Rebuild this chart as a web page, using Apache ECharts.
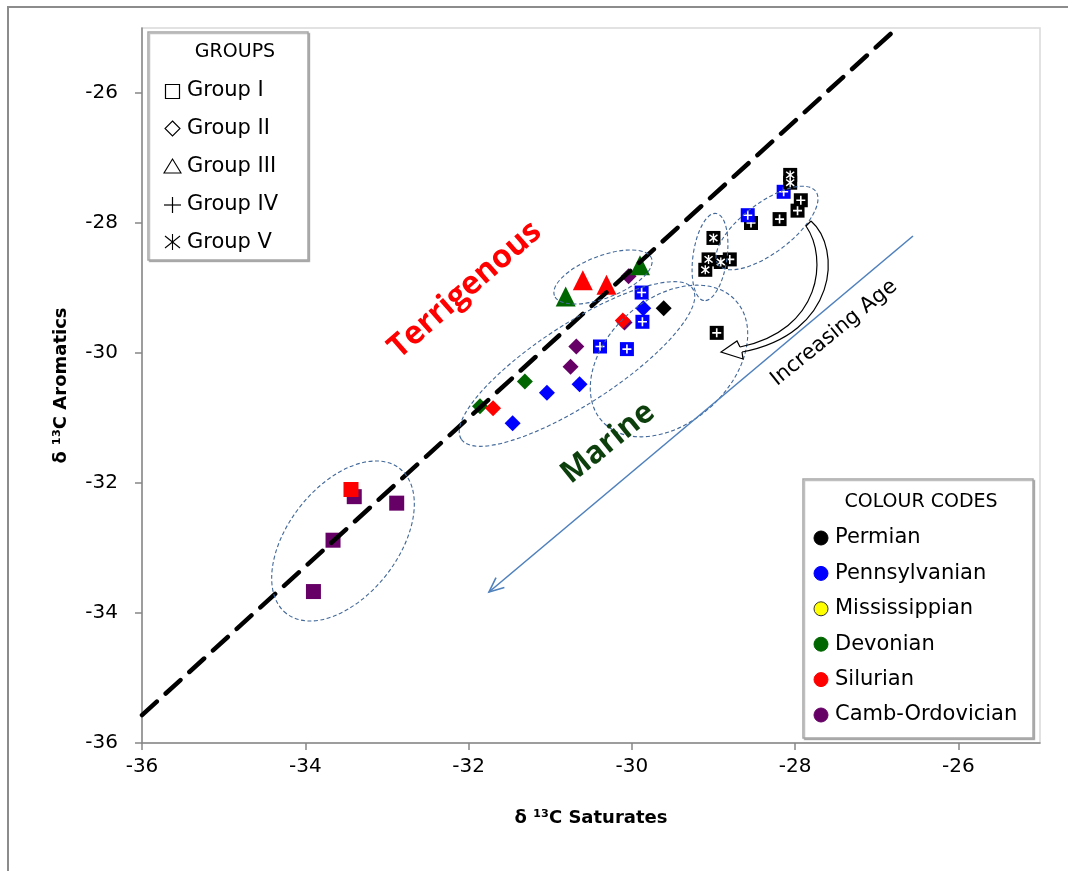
<!DOCTYPE html>
<html><head><meta charset="utf-8">
<script src="https://cdn.jsdelivr.net/npm/echarts@6/dist/echarts.min.js"></script>
<style>html,body{margin:0;padding:0;background:#fff}#c{width:1068px;height:871px}</style>
</head><body><div id="c"></div>
<script>
// ---- Data (δ13C Saturates, δ13C Aromatics) ----
const xTicks = [-36, -34, -32, -30, -28, -26];
const yTicks = [-36, -34, -32, -30, -28, -26];
const g1Silurian = [[-33.44, -32.10]];
const g1CambOrd = [[-33.40, -32.21], [-32.88, -32.31], [-33.66, -32.88], [-33.90, -33.67]];
const g2Devonian = [[-31.86, -30.82], [-31.31, -30.44]];
const g2CambOrd = [[-30.68, -29.90], [-30.75, -30.21], [-30.09, -29.53], [-30.04, -28.82]];
const g2Silurian = [[-31.70, -30.85], [-30.11, -29.50]];
const g2Pennsylvanian = [[-31.46, -31.08], [-31.04, -30.61], [-30.64, -30.48], [-29.86, -29.31]];
const g2Permian = [[-29.61, -29.31]];
const g3Devonian = [[-30.81, -29.13], [-29.90, -28.65]];
const g3Silurian = [[-30.60, -28.88], [-30.31, -28.95]];
const g4Permian = [[-28.54, -28.00], [-28.19, -27.94], [-27.97, -27.81], [-27.93, -27.65], [-28.80, -28.56], [-28.96, -29.69]];
const g4Pennsylvanian = [[-30.39, -29.90], [-30.06, -29.94], [-29.87, -29.52], [-29.88, -29.07], [-28.58, -27.88], [-28.14, -27.52]];
const g5Permian = [[-28.06, -27.26], [-28.06, -27.38], [-29.00, -28.23], [-29.06, -28.56], [-29.10, -28.72], [-28.91, -28.60]];
const oneToOneLine = [[-36, -35.57], [-26.75, -25.0]];
const groupLabels = ['Group I', 'Group II', 'Group III', 'Group IV', 'Group V'];
const periodLabels = ['Permian', 'Pennsylvanian', 'Mississippian', 'Devonian', 'Silurian', 'Camb-Ordovician'];

// ---- Styles ----
const C = { Permian: '#000000', Pennsylvanian: '#0000ff', Mississippian: '#ffff00', Devonian: '#006600', Silurian: '#ff0000', CambOrd: '#660066' };
const periodColors = [C.Permian, C.Pennsylvanian, C.Mississippian, C.Devonian, C.Silurian, C.CambOrd];
const FONT = '"Open Sans", "Noto Sans", sans-serif';
const DFONT = '"DejaVu Sans", sans-serif';
const PLUS = 'path://M4.1 0 L5.9 0 L5.9 4.1 L10 4.1 L10 5.9 L5.9 5.9 L5.9 10 L4.1 10 L4.1 5.9 L0 5.9 L0 4.1 L4.1 4.1 Z';
const STAR = 'path://M4.3 0 L5.7 0 L5.7 10 L4.3 10 Z M0.4 2.1 L1.4 0.9 L9.6 7.9 L8.6 9.1 Z M8.6 0.9 L9.6 2.1 L1.4 9.1 L0.4 7.9 Z';

function sc(data, symbol, size, color, z) {
  return { type: 'scatter', data, symbol, symbolSize: size, z: z || 2,
    itemStyle: { color, opacity: 1 }, emphasis: { disabled: true }, silent: true };
}
function boxed(data, color, glyph) {
  return [
    { type: 'scatter', data, symbol: 'rect', symbolSize: 14, z: 3, silent: true,
      itemStyle: { color, opacity: 1 } },
    { type: 'scatter', data, symbol: glyph, symbolSize: 9, z: 3, silent: true,
      itemStyle: { color: '#ffffff', opacity: 1 } }
  ];
}

const series = [
  sc(g1CambOrd, 'rect', 15, C.CambOrd),
  sc(g1Silurian, 'rect', 15, C.Silurian),
  sc(g2Devonian, 'diamond', 16, C.Devonian),
  sc(g2CambOrd, 'diamond', 16, C.CambOrd),
  sc(g2Silurian, 'diamond', 16, C.Silurian),
  sc(g2Pennsylvanian, 'diamond', 16, C.Pennsylvanian),
  sc(g2Permian, 'diamond', 16, C.Permian),
  sc(g3Devonian, 'triangle', 20, C.Devonian),
  sc(g3Silurian, 'triangle', 20, C.Silurian),
  ...boxed(g4Permian, C.Permian, PLUS),
  ...boxed(g4Pennsylvanian, C.Pennsylvanian, PLUS),
  ...boxed(g5Permian, C.Permian, STAR),
  { type: 'line', data: oneToOneLine, symbol: 'none', z: 5, silent: true,
    lineStyle: { color: '#000', width: 4.5, type: [20, 12], cap: 'round' } }
];

// ---- Annotations (pixel space) ----
const ellStyle = { fill: 'none', stroke: '#41689a', lineWidth: 1.1, lineDash: [4, 2.5] };
function ell(x, y, rx, ry, deg) {
  return { type: 'ellipse', x, y, rotation: deg * Math.PI / 180, shape: { cx: 0, cy: 0, rx, ry }, style: ellStyle, z: 10, silent: true };
}
function rtext(text, x, y, deg, size, color, weight, font) {
  return { type: 'text', x, y, rotation: deg * Math.PI / 180, z: 20, silent: true,
    style: { text, fill: color, font: `${weight} ${size}px ${font || FONT}`, align: 'center', verticalAlign: 'middle' } };
}
function arrowHead(tx, ty, fx, fy, len, deg) {
  const a = Math.atan2(fy - ty, fx - tx), s = deg * Math.PI / 180;
  return { type: 'polyline', z: 12, silent: true,
    shape: { points: [[tx + len * Math.cos(a + s), ty + len * Math.sin(a + s)], [tx, ty], [tx + len * Math.cos(a - s), ty + len * Math.sin(a - s)]] },
    style: { stroke: '#4f81bd', lineWidth: 1.6, fill: 'none' } };
}
const blk = { stroke: '#000', lineWidth: 1.2, fill: 'none' };

const graphics = [
  { type: 'rect', shape: { x: 8, y: 7, width: 1200, height: 1000 }, style: { fill: 'none', stroke: '#8c8c8c', lineWidth: 2 }, z: 0, silent: true },
  ell(343, 541, 92, 55, 52),
  ell(577, 364, 138, 40, 33),
  ell(603, 277, 52, 21, 21),
  ell(669, 361, 90, 62, 42),
  ell(710, 257, 44, 17, 82),
  ell(767, 228, 61, 25, 37),
  { type: 'line', shape: { x1: 913, y1: 236, x2: 489, y2: 592 }, style: { stroke: '#4f81bd', lineWidth: 1.6 }, z: 12, silent: true },
  arrowHead(489, 592, 913, 236, 16, 24),
  // curved outline arrow
  { type: 'bezierCurve', z: 12, silent: true, shape: { x1: 811, y1: 221, cpx1: 842, cpy1: 248, cpx2: 838, cpy2: 334, x2: 742, y2: 352 }, style: blk },
  { type: 'bezierCurve', z: 12, silent: true, shape: { x1: 806, y1: 226, cpx1: 828, cpy1: 258, cpx2: 822, cpy2: 330, x2: 740, y2: 347 }, style: blk },
  { type: 'polyline', z: 12, silent: true, shape: { points: [[742, 352], [743, 359], [721, 352], [737, 341], [740, 347]] }, style: blk },
  { type: 'polyline', z: 12, silent: true, shape: { points: [[806, 226], [811, 221]] }, style: blk },
  rtext('Terrigenous', 465, 290, 41, 32, '#ff0000', 'bold'),
  rtext('Marine', 608, 443, 39, 31, '#0d3f0d', 'bold'),
  rtext('Increasing Age', 834, 333, 39, 21, '#000', 'normal', DFONT),
  // GROUPS legend
  { type: 'rect', shape: { x: 148, y: 32, width: 160, height: 228 }, style: { fill: '#fff', stroke: '#a6a6a6', lineWidth: 1.5, shadowColor: 'rgba(0,0,0,0.25)', shadowOffsetX: 1.5, shadowOffsetY: 1.5 }, z: 30 },
  { type: 'text', x: 235, y: 52, z: 31, style: { text: 'GROUPS', font: `19px ${DFONT}`, fill: '#000', align: 'center', verticalAlign: 'middle' } },
  { type: 'rect', shape: { x: 165.5, y: 84.5, width: 14, height: 14 }, style: { fill: 'none', stroke: '#000', lineWidth: 1.2 }, z: 31 },
  { type: 'polygon', shape: { points: [[172.5, 121], [180, 128.5], [172.5, 136], [165, 128.5]] }, style: { fill: 'none', stroke: '#000', lineWidth: 1.1 }, z: 31 },
  { type: 'polygon', shape: { points: [[172.5, 159], [181, 173], [164, 173]] }, style: { fill: 'none', stroke: '#000', lineWidth: 1.1 }, z: 31 },
  { type: 'polyline', shape: { points: [[164, 205], [181, 205]] }, style: { stroke: '#000', lineWidth: 1.2, fill: 'none' }, z: 31 },
  { type: 'polyline', shape: { points: [[172.5, 197], [172.5, 213]] }, style: { stroke: '#000', lineWidth: 1.2, fill: 'none' }, z: 31 },
  { type: 'polyline', shape: { points: [[172.5, 234], [172.5, 250]] }, style: { stroke: '#000', lineWidth: 1.1, fill: 'none' }, z: 31 },
  { type: 'polyline', shape: { points: [[165, 236], [180, 248]] }, style: { stroke: '#000', lineWidth: 1.1, fill: 'none' }, z: 31 },
  { type: 'polyline', shape: { points: [[180, 236], [165, 248]] }, style: { stroke: '#000', lineWidth: 1.1, fill: 'none' }, z: 31 },
  ...groupLabels.map((t, i) => ({ type: 'text', x: 187, y: 91 + i * 38, z: 31,
    style: { text: t, font: `21px ${DFONT}`, fill: '#000', align: 'left', verticalAlign: 'middle' } })),
  // COLOUR CODES legend
  { type: 'rect', shape: { x: 803, y: 479, width: 230, height: 259 }, style: { fill: '#fff', stroke: '#a6a6a6', lineWidth: 1.5, shadowColor: 'rgba(0,0,0,0.25)', shadowOffsetX: 1.5, shadowOffsetY: 1.5 }, z: 30 },
  { type: 'text', x: 921, y: 502, z: 31, style: { text: 'COLOUR CODES', font: `19px ${DFONT}`, fill: '#000', align: 'center', verticalAlign: 'middle' } },
  ...periodLabels.map((t, i) => ({ type: 'circle', z: 31, shape: { cx: 821, cy: 538 + i * 35.4, r: 7 },
    style: { fill: periodColors[i], stroke: i === 2 ? '#333' : periodColors[i], lineWidth: 1 } })),
  ...periodLabels.map((t, i) => ({ type: 'text', x: 835, y: 538 + i * 35.4, z: 31,
    style: { text: t, font: `21px ${DFONT}`, fill: '#000', align: 'left', verticalAlign: 'middle' } }))
];

const chart = echarts.init(document.getElementById('c'), null, { renderer: 'canvas' });
chart.setOption({
  animation: false,
  backgroundColor: '#fff',
  grid: { left: 142, top: 28, right: 28, bottom: 128, show: true, borderColor: '#d9d9d9', borderWidth: 1.5, backgroundColor: 'transparent' },
  xAxis: {
    type: 'value', min: -36, max: -25, interval: 2,
    name: 'δ ¹³C Saturates', nameLocation: 'middle', nameGap: 66,
    nameTextStyle: { fontFamily: DFONT, fontWeight: 'bold', fontSize: 18, color: '#000' },
    axisLine: { show: true, onZero: false, lineStyle: { color: '#868686', width: 1.5 } },
    axisTick: { show: true, length: 7, customValues: xTicks, lineStyle: { color: '#868686', width: 1.5 } },
    axisLabel: { fontFamily: DFONT, fontSize: 20, color: '#000', margin: 14, customValues: xTicks,
      formatter: v => xTicks.includes(v) ? String(v) : '' },
    splitLine: { show: false }
  },
  yAxis: {
    type: 'value', min: -36, max: -25, interval: 2,
    name: 'δ ¹³C Aromatics', nameLocation: 'middle', nameGap: 72, nameRotate: 90,
    nameTextStyle: { fontFamily: DFONT, fontWeight: 'bold', fontSize: 18, color: '#000' },
    axisLine: { show: true, onZero: false, lineStyle: { color: '#868686', width: 1.5 } },
    axisTick: { show: true, length: 7, customValues: yTicks, lineStyle: { color: '#868686', width: 1.5 } },
    axisLabel: { fontFamily: DFONT, fontSize: 20, color: '#000', margin: 24, customValues: yTicks,
      formatter: v => yTicks.includes(v) ? String(v) : '' },
    splitLine: { show: false }
  },
  series,
  graphic: { elements: graphics }
});
</script></body></html>
